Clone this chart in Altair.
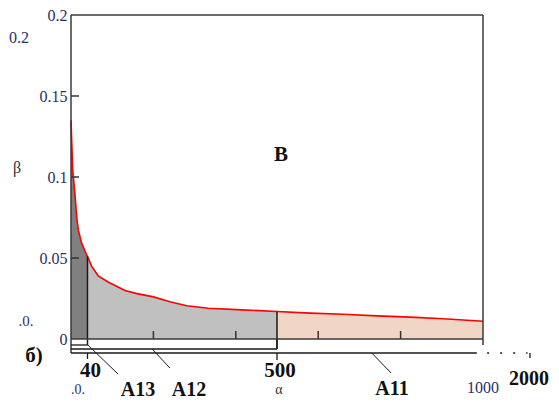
import altair as alt
import pandas as pd

# ---- data ----
alpha = [0, 4, 10, 14, 18, 26, 38, 40, 50, 66, 91, 119, 131, 160, 200, 240,
         281, 333, 415, 500, 580, 660, 742, 823, 903, 1000]
beta = [0.135, 0.105, 0.088, 0.075, 0.067, 0.059, 0.052, 0.051, 0.045, 0.039,
        0.035, 0.0315, 0.030, 0.028, 0.026, 0.023, 0.0205, 0.019, 0.018,
        0.017, 0.016, 0.0153, 0.0143, 0.0135, 0.0125, 0.011]
region_names = ["A13", "A12", "A11"]
region_bounds = [(0, 40), (40, 500), (500, 1000)]
region_colors = ["#808080", "#c0c0c0", "#f1d6c6"]
y_ticks = [0, 0.05, 0.1, 0.15, 0.2]
x_inner_ticks = [200, 400, 600, 800]
x_labels = ["40", "500"]
x_label_vals = [40, 500]

NAVY = "#27306a"
SERIF = "Liberation Serif, Times New Roman, serif"
W, H = 412, 324

curve = pd.DataFrame({"a": alpha, "b": beta})
rows = []
for name, (lo, hi) in zip(region_names, region_bounds):
    seg = curve[(curve.a >= lo) & (curve.a <= hi)].copy()
    seg["region"] = name
    rows.append(seg)
areadf = pd.concat(rows, ignore_index=True)

xs = alt.Scale(domain=[0, 1000], nice=False, zero=False)
ys = alt.Scale(domain=[0, 0.2], nice=False, zero=False)

yaxis = alt.Axis(values=y_ticks, format="~g", labelFont=SERIF, labelFontSize=16,
                 labelColor=NAVY, tickSize=0, domain=False, grid=False,
                 labelPadding=4, title=None, labelBaseline="middle")

area = alt.Chart(areadf).mark_area(interpolate="linear").encode(
    x=alt.X("a:Q", scale=xs, axis=None),
    y=alt.Y("b:Q", scale=ys, axis=yaxis, stack=None),
    color=alt.Color("region:N", scale=alt.Scale(domain=region_names, range=region_colors),
                    legend=None),
)

line = alt.Chart(curve).mark_line(color="#ff0000", strokeWidth=1.6).encode(
    x=alt.X("a:Q", scale=xs), y=alt.Y("b:Q", scale=ys))

INK = "#1a1a1a"


def seg_rule(a0, a1, py0, py1, color=INK, width=1.3, dash=None):
    df = pd.DataFrame({"a0": [a0], "a1": [a1]})
    kw = dict(color=color, strokeWidth=width)
    if dash:
        kw["strokeDash"] = dash
    return alt.Chart(df).mark_rule(**kw).encode(
        x=alt.X("a0:Q", scale=xs), x2="a1:Q", y=alt.value(py0), y2=alt.value(py1))


# vertical boundaries at 40 and 500 from curve to brackets
bnd = pd.DataFrame({"a": [40], "b": [0.051]})
bnd2 = pd.DataFrame({"a": [500], "b": [0.017]})
v40 = alt.Chart(bnd).mark_rule(color=INK, strokeWidth=1.5).encode(
    x=alt.X("a:Q", scale=xs), y=alt.Y("b:Q", scale=ys), y2=alt.value(330))
v500 = alt.Chart(bnd2).mark_rule(color=INK, strokeWidth=1.5).encode(
    x=alt.X("a:Q", scale=xs), y=alt.Y("b:Q", scale=ys), y2=alt.value(334))

# y ticks (inward)
yt = alt.Chart(pd.DataFrame({"b": y_ticks[1:4]})).mark_rule(color="#333333", strokeWidth=1.5).encode(
    y=alt.Y("b:Q", scale=ys), x=alt.value(0), x2=alt.value(8))
# x ticks (inward)
xt = alt.Chart(pd.DataFrame({"a": x_inner_ticks})).mark_rule(color="#333333", strokeWidth=1.5).encode(
    x=alt.X("a:Q", scale=xs), y=alt.value(316), y2=alt.value(324))

frame_color = "#3a3a3a"
frame = [
    alt.Chart(pd.DataFrame({"k": [0]})).mark_rule(color=frame_color, strokeWidth=1.5).encode(
        x=alt.value(0), x2=alt.value(W), y=alt.value(0)),
    alt.Chart(pd.DataFrame({"k": [0]})).mark_rule(color=frame_color, strokeWidth=1.5).encode(
        x=alt.value(W), y=alt.value(0), y2=alt.value(330)),
    alt.Chart(pd.DataFrame({"k": [0]})).mark_rule(color=frame_color, strokeWidth=1.5).encode(
        x=alt.value(0), y=alt.value(0), y2=alt.value(338)),
    alt.Chart(pd.DataFrame({"k": [0]})).mark_rule(color=frame_color, strokeWidth=1.5).encode(
        x=alt.value(0), x2=alt.value(W), y=alt.value(324)),
]

brackets = [
    seg_rule(0, 41, 330, 330),
    seg_rule(0, 500, 334, 334),
    seg_rule(500, 500, 324, 334),
    seg_rule(0, 985, 338, 338),
    seg_rule(1010, 1108, 338, 338, dash=[2, 11]),
    seg_rule(1114, 1114, 338, 343),
    seg_rule(40, 40, 338, 344),
    seg_rule(500, 500, 338, 345),
    seg_rule(41, 114, 330, 359, width=1),
    seg_rule(197, 240, 334, 353, width=1),
    seg_rule(730, 777, 338, 358, width=1),
]

xlab = alt.Chart(pd.DataFrame({"a": x_label_vals, "t": x_labels})).mark_text(
    font=SERIF, fontSize=21, fontWeight="bold", color="#111111", baseline="alphabetic",
    dx=3).encode(x=alt.X("a:Q", scale=xs), y=alt.value(362), text="t:N")


def label(txt, px, py, size=16, bold=False, color="#111111"):
    return alt.Chart(pd.DataFrame({"t": [txt]})).mark_text(
        font=SERIF, fontSize=size, fontWeight="bold" if bold else "normal",
        color=color, baseline="alphabetic", align="center").encode(
        x=alt.value(px), y=alt.value(py), text="t:N")


labels = [
    label("B", 210, 146, 21, True),
    label("0.2", -52, 28, 16, False, NAVY),
    label("β", -54, 158, 16, False, "#333333"),
    label(".0.", -45, 311, 15, False, NAVY),
    label("б)", -37, 347, 21, True),
    label("A13", 67, 381, 20, True),
    label("A12", 118, 381, 20, True),
    label("α", 208, 379, 14, False, "#333333"),
    label("A11", 321, 380, 20, True),
    label("1000", 412, 378, 16, False, NAVY),
    label("2000", 458, 370, 20, True),
    label(".0.", 7, 379, 14, False, NAVY),
]

chart = alt.layer(area, line, v40, v500, yt, xt, *frame, *brackets, xlab, *labels).properties(
    width=W, height=H,
    padding={"left": 63, "top": 7, "right": 68, "bottom": 60},
    autosize=alt.AutoSizeParams(type="none"),
    background="white",
).configure_view(stroke=None)

chart.save("out.html", embed_options={"renderer": "svg", "actions": False})
